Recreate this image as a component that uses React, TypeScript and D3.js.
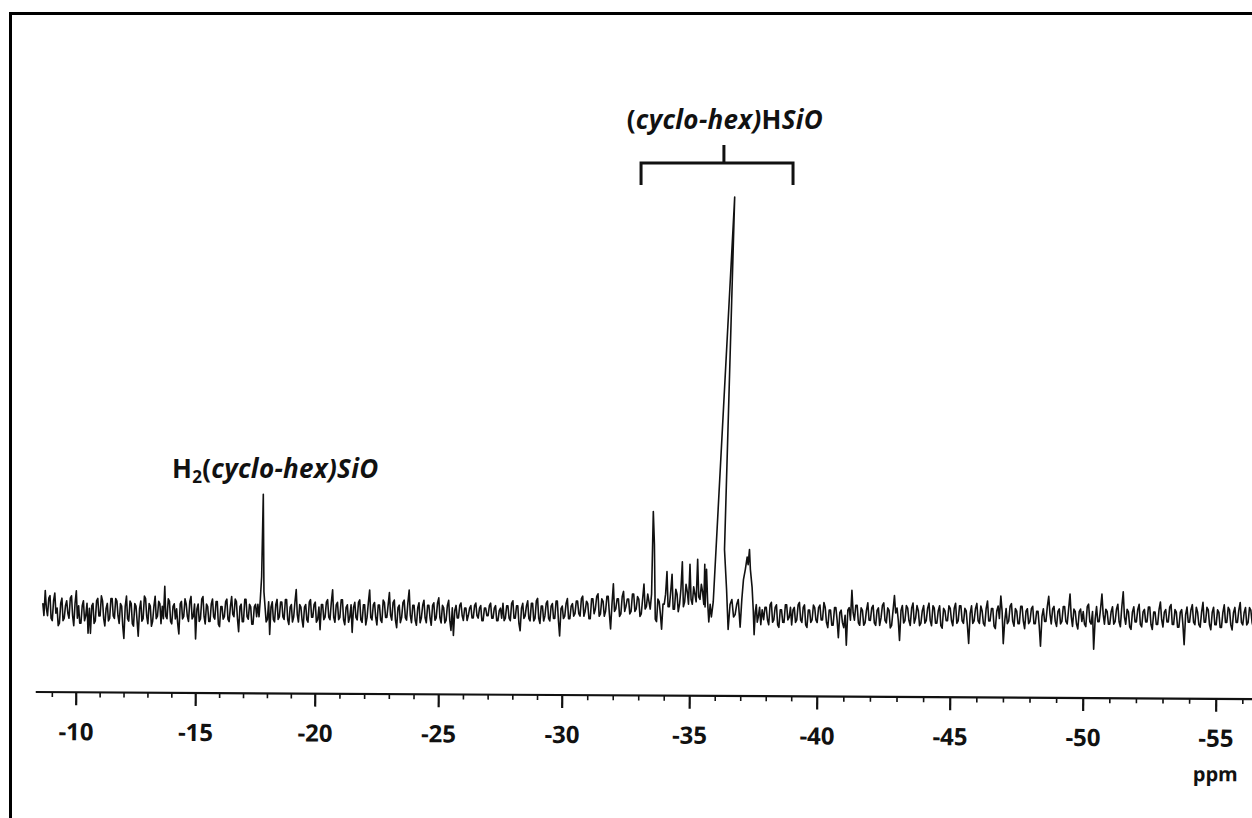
import React, { useRef, useEffect } from 'react';
import * as d3 from 'd3';

// ppm axis ticks
const majorTicks = [-10, -15, -20, -25, -30, -35, -40, -45, -50, -55];
const minorTicks = d3.range(-9, -57, -1).filter(v => v % 5 !== 0);

// spectrum, intensity in arbitrary units (main peak ~167)
// grid part 1 starts at -8.6 ppm, one value every 0.05 ppm (one row = 1 ppm)
const lowStart = -8.6;
const ppmStep = 0.05;
const noiseLow = [
  3, -2, 8, 1, -2, 5, 6, -3, -4, 4, 7, -1, 1, -6, -5, 3, 5, -4, -3, 2,
  4, -1, -3, 5, 6, -2, -6, 3, 8, -3, 2, -5, -5, 2, 4, -4, -2, 3, -9, 1,
  -9, 2, 3, -5, -4, 4, 5, -2, -2, 6, 4, -3, -6, 1, 3, -4, -3, 5, 5, -2,
  -3, 5, 4, -2, -5, 3, 2, -6, -11, 2, 6, -3, -4, 4, 3, -5, -6, 3, 2, -4,
  -10, 1, 4, -4, -3, 6, 5, -2, -5, 3, 2, -6, -4, 2, 6, -3, -2, 4, 3, -5,
  2, -3, 10, -2, -3, 5, 4, -4, -5, 2, 3, -3, 1, -5, -9, 3, 4, -3, -2, 5,
  3, -2, -4, 4, 6, -3, -2, 3, -11, 1, 3, -4, -3, 5, 6, -2, -5, 3, 2, -4,
  -4, 3, 5, -2, -3, 4, 4, -5, -6, 2, 2, -3, -2, 4, 5, -3, -4, 2, 6, -1,
  -2, 5, 4, -3, -8, 2, 3, -4, -4, 5, 5, -2, -3, 3, 2, -5, -5, 2, 3, -2,
  3, -2, 5, 14, 47, 8, 2, -4, -3, 4, -9, 2, 4, -3, -4, 3, 5, -3, -2, 4,
  4, -2, -3, 5, 5, -3, -5, 2, 3, -4, -2, 4, 9, -1, -4, 3, 2, -3, -6, 2,
  3, -3, -4, 4, 5, -2, -2, 3, 4, -4, -3, 2, -7, 3, 3, -3, -2, 4, 5, -2,
  -3, 4, 9, -2, -4, 3, 4, -3, -2, 5, 5, -3, -5, 2, 3, -4, -2, 3, -8, 2,
  4, -2, -3, 4, 5, -3, -4, 3, 3, -5, -2, 4, 9, -2, -3, 3, 4, -2, -5, 3,
  3, -3, -4, 5, 4, -2, -2, 3, 8, -1, -3, 4, 5, -3, -6, 2, 3, -4, -2, 4,
  5, -2, -3, 4, 9, -1, -4, 3, 3, -3, -5, 2, 4, -4, -2, 3, 5, -2, -4, 3,
  3, -2, -5, 3, 4, -3, -2, 4, 6, -2, -4, 3, 2, -4, -3, 3, 5, -3, -7, 2,
  -9, 1, 3, -2, -2, 3, 4, -1, -3, 2, 2, -3, -1, 2, 3, -2, -2, 3, 4, -1,
  -2, 2, 3, -3, -3, 2, 2, -1, -1, 3, 4, -2, -2, 2, 3, -3, -3, 1, 2, -2,
  4, -3, -2, 3, 3, -2, -3, 4, 5, -2, -2, 3, 3, -4, -7, 2, 4, -2, -1, 3,
  5, -2, -3, 4, 4, -3, -2, 5, 6, -2, -4, 3, 3, -3, -1, 4, 5, -2, -3, 3,
  4, -2, -2, 5, 5, -3, -9, 2, 3, -2, -1, 4, 6, -2, -2, 3, 4, -1, 0, 5,
  5, 0, -1, 6, 7, -1, 1, 5, 4, -2, -2, 6, 6, 0, 2, 7, 8, -1, 0, 6,
  5, -1, 1, 7, 7, 0, -6, 4, 12, 1, 2, 6, 6, -1, 0, 7, 9, 1, 3, 6,
  6, 0, 1, 8, 8, 1, 2, 7, 6, -1, 0, 6, 12, 2, 3, 8, 5, 2, 8, 41,
  28, -2, -3, 6, 5, 0, -6, 4, 4, 8, 17, 3, 3, 9, 16, 2, 2, 10, 8, 1,
  4, 10, 21, 3, 5, 12, 9, 4, 20, 6, 4, 11, 8, 5, 22, 7, 6, 12, 9, 4,
];

// main peak and shoulder, explicit [ppm, intensity] (the peak leans in the scan)
const peakRegion = [
  [-35.58, 20], [-35.6, 3], [-35.65, 18], [-35.7, 5], [-35.75, -3], [-35.8, 4],
  [-35.85, -1], [-35.92, 5], [-36.67, 167], [-36.35, 26], [-36.44, 10], [-36.51, -6],
  [-36.58, 4], [-36.65, 6], [-36.72, -1], [-36.78, 0], [-36.84, 4], [-36.9, 6],
  [-36.98, -5], [-37.04, 6], [-37.1, 14], [-37.17, 18], [-37.24, 23], [-37.28, 20],
  [-37.33, 26], [-37.37, 18], [-37.44, 11], [-37.49, 2], [-37.53, -8], [-37.57, 1],
  [-37.61, 4], [-37.65, -3], [-37.69, -1], [-37.74, 3], [-37.79, -4], [-37.84, 2],
  [-37.9, -2], [-37.95, 3],
];

// grid part 2 starts at -38.0 ppm
const highStart = -38.0;
const noiseHigh = [
  3, -2, -4, 4, 5, -3, -2, 3, 4, -4, -5, 2, 2, -3, -3, 4, 4, -2, -1, 3,
  -4, 2, 3, -3, -2, 4, 5, -2, -3, 3, 4, -4, -5, 2, 2, -3, -2, 4, 3, -2,
  -3, 3, 4, -2, -2, 5, 3, -3, -5, 2, 2, -4, -4, 3, 3, -2, -9, 1, 2, -3,
  -5, 0, -12, 2, 3, -2, 10, 1, -2, 4, 4, -3, -4, 3, 2, -4, -3, 2, 5, -2,
  -2, 3, 4, -3, -4, 2, 3, -4, -1, 4, 5, -2, -3, 3, 2, -5, -4, 2, 8, 1,
  3, -2, -10, 2, 4, -3, -2, 4, 3, -2, -4, 3, 5, -3, -1, 4, 2, -4, -3, 2,
  4, -3, -2, 3, 5, -2, -4, 4, 3, -3, -3, 2, 4, -4, -5, 3, 2, -2, -2, 4,
  3, -2, -4, 3, 5, -3, -2, 4, 4, -2, -3, 3, 2, -4, -11, 1, 4, -3, -2, 3,
  5, -2, -3, 4, 2, -3, -4, 3, 6, -2, -2, 3, 3, -4, -5, 2, 4, -1, 8, 2,
  -11, -2, 3, -3, -2, 4, 5, -2, -4, 3, 2, -3, -3, 4, 4, -2, -5, 2, 3, -3,
  -2, 3, 4, -3, -3, 2, 2, -4, -12, 0, 3, -2, -2, 4, 8, 1, -3, 3, 4, -2,
  -4, 2, 3, -3, -2, 4, 4, -2, -3, 3, 9, 0, -4, 3, 2, -3, -5, 2, 3, -2,
  2, -3, -4, 4, 5, -2, -3, 2, -13, -1, 4, -2, -2, 3, 9, 1, -3, 3, 2, -3,
  -3, 2, 4, -3, -2, 3, 5, -2, -4, 4, 10, 0, -3, 3, 2, -4, -5, 2, 4, -2,
  -2, 3, 5, -3, -4, 2, 3, -2, -2, 4, 4, -3, -5, 2, 2, -3, -3, 3, 6, -1,
  -4, 2, 3, -2, -2, 4, 5, -3, -3, 3, 2, -4, -4, 2, 3, -3, -11, 1, 4, -2,
  -2, 3, 5, -2, -3, 4, 2, -3, -4, 2, 6, -2, -2, 4, 3, -3, -5, 2, 4, -3,
  -3, 3, 2, -4, -4, 2, 5, -2, -2, 4, 3, -3, -5, 2, 4, -2, -2, 3, 6, -2,
  -3, 2, 4, -3, -2, 4, 3, -2, -4, 3, 2, -3, 5, -2, -3, 4, 4, -2, -2, 3,
];

// bracket over the (cyclo-hex)HSiO signals, in ppm
const bracketRange = [-33.1, -39.06];
const bracketStem = -36.35;

const FONT = "'Open Sans', Lato, 'DejaVu Sans', sans-serif";

const App = () => {
  const chartRef = useRef(null);

  useEffect(() => {
    const width = 1252;
    const height = 818;

    // ppm axis of the scan is slightly uneven, so calibrate on several ticks
    const x = d3.scaleLinear()
      .domain([-10, -20, -30, -40, -55])
      .range([76, 315, 562, 817, 1216]);
    const y = d3.scaleLinear().domain([0, 100]).range([614, 364]);
    const axisY = 695.5;

    const svg = d3.select(chartRef.current);
    svg.selectAll('*').remove();
    svg.attr('width', width).attr('height', height);

    svg.append('rect')
      .attr('width', width).attr('height', height)
      .attr('fill', '#fff');

    // frame (right and bottom edges fall outside the picture)
    svg.append('rect')
      .attr('x', 10.5).attr('y', 13.5)
      .attr('width', 1300).attr('height', 900)
      .attr('fill', 'none')
      .attr('stroke', '#000')
      .attr('stroke-width', 3);

    // the scan is tilted a little
    const g = svg.append('g').attr('transform', 'rotate(0.33, 640, 650)');

    const points = [
      ...noiseLow.map((v, i) => [lowStart - i * ppmStep, v]),
      ...peakRegion,
      ...noiseHigh.map((v, i) => [highStart - i * ppmStep, v]),
    ];

    const line = d3.line()
      .x(d => x(d[0]))
      .y(d => y(d[1]));

    g.append('path')
      .datum(points)
      .attr('d', line)
      .attr('fill', 'none')
      .attr('stroke', '#111')
      .attr('stroke-width', 1.6)
      .attr('stroke-linejoin', 'round');

    // axis line
    g.append('line')
      .attr('x1', 36).attr('x2', 1260)
      .attr('y1', axisY).attr('y2', axisY)
      .attr('stroke', '#111')
      .attr('stroke-width', 2.2);

    // minor ticks
    const minorAxis = g.append('g')
      .attr('transform', `translate(0,${axisY})`)
      .call(d3.axisBottom(x).tickValues(minorTicks).tickSize(5).tickSizeOuter(0).tickFormat(() => ''));
    minorAxis.select('.domain').remove();
    minorAxis.selectAll('line').attr('stroke', '#111').attr('stroke-width', 1.6);

    // major ticks and labels
    const majorAxis = g.append('g')
      .attr('transform', `translate(0,${axisY})`)
      .call(d3.axisBottom(x).tickValues(majorTicks).tickSize(13).tickSizeOuter(0)
        .tickPadding(18).tickFormat(d => String(d)));
    majorAxis.select('.domain').remove();
    majorAxis.selectAll('line').attr('stroke', '#111').attr('stroke-width', 2.2);
    majorAxis.selectAll('text')
      .attr('fill', '#111')
      .style('font-family', FONT)
      .style('font-weight', 'bold')
      .style('font-size', '24px');

    g.append('text')
      .attr('x', x(-55))
      .attr('y', 778)
      .attr('text-anchor', 'middle')
      .attr('fill', '#111')
      .style('font-family', FONT)
      .style('font-weight', 'bold')
      .style('font-size', '20px')
      .text('ppm');

    // bracket
    const bx0 = x(bracketRange[0]);
    const bx1 = x(bracketRange[1]);
    const bs = x(bracketStem);
    svg.append('path')
      .attr('d', `M${bx0},185V163H${bx1}V185M${bs},163V145`)
      .attr('fill', 'none')
      .attr('stroke', '#111')
      .attr('stroke-width', 3);

    // labels
    const lab1 = svg.append('text')
      .attr('x', bs + 1)
      .attr('y', 129)
      .attr('text-anchor', 'middle')
      .attr('fill', '#111')
      .style('font-family', FONT)
      .style('font-weight', 'bold')
      .style('font-size', '26px')
      .style('letter-spacing', '0.3px');
    lab1.append('tspan').text('(');
    lab1.append('tspan').style('font-style', 'italic').text('cyclo-hex)');
    lab1.append('tspan').text('H');
    lab1.append('tspan').style('font-style', 'italic').text('SiO');

    const lab2 = svg.append('text')
      .attr('x', 172)
      .attr('y', 478)
      .attr('fill', '#111')
      .style('font-family', FONT)
      .style('font-weight', 'bold')
      .style('font-size', '26px')
      .style('letter-spacing', '0.3px');
    lab2.append('tspan').text('H');
    lab2.append('tspan').attr('dy', 5).style('font-size', '17px').text('2');
    lab2.append('tspan').attr('dy', -5).text('(');
    lab2.append('tspan').style('font-style', 'italic').text('cyclo-hex)SiO');
  }, []);

  return (
    <svg
      ref={chartRef}
      style={{ position: 'absolute', left: 0, top: 0, display: 'block' }}
    ></svg>
  );
};

export default App;
